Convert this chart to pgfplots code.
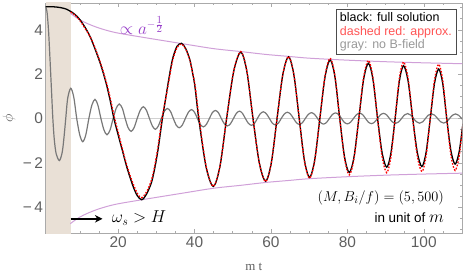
\documentclass[border=0pt]{standalone}
\usepackage{pgfplots}
\pgfplotsset{compat=1.18}
\usepackage{fontspec}
\setmainfont{Liberation Sans}
\newfontfamily\seriffont{Liberation Serif}
\usetikzlibrary{arrows.meta}
\definecolor{shade}{RGB}{233,224,214}
\definecolor{envc}{RGB}{208,160,216}
\definecolor{envtxt}{RGB}{150,60,200}
\definecolor{legred}{RGB}{255,85,85}
\definecolor{curvegray}{RGB}{120,120,120}
\definecolor{framec}{RGB}{170,170,170}
\definecolor{tickc}{RGB}{95,95,95}
\begin{document}
\begin{tikzpicture}
\begin{axis}[
  at={(0,0)}, anchor=south west,
  scale only axis, width=416.5bp, height=230bp,
  xmin=1, xmax=110, ymin=-5.17, ymax=5.21,
  axis line style={draw=framec, line width=0.6bp},
  xtick={20,40,60,80,100},
  minor xtick={5,10,15,25,30,35,45,50,55,65,70,75,85,90,95,105},
  ytick={-4,-2,0,2,4}, yticklabels={−\,4,−\,2,0,2,4},
  minor ytick={-5,-4.5,-3.5,-3,-2.5,-1.5,-1,-0.5,0.5,1,1.5,2.5,3,3.5,4.5,5},
  tick align=inside, major tick length=4bp, minor tick length=2.2bp,
  every tick/.style={framec, line width=0.5bp},
  ticklabel style={font=\fontsize{15.5}{15.5}\selectfont, text=tickc},
  /pgf/number format/assume math mode=true,
  xticklabel style={yshift=-0.5bp},
  yticklabel style={xshift=1bp},
  xlabel={\seriffont m t}, ylabel={$\phi$},
  xlabel style={at={(axis description cs:0.5,0)}, anchor=center, yshift=-34bp, font=\fontsize{13}{13}\selectfont, text=tickc},
  ylabel style={at={([xshift=-36.5bp]axis description cs:0,0.5)}, anchor=center, font=\fontsize{14}{14}\selectfont, text=tickc},
  extra y ticks={0}, extra y tick labels={},
  extra y tick style={grid=major, major grid style={black!18, line width=0.7bp}},
  clip=true,
]
% shaded region
\addplot[draw=none, fill=shade] coordinates {(1,-6) (7.6,-6) (7.6,6) (1,6)} -- cycle;

% gray: no B-field
\addplot[curvegray, line width=1.2bp, smooth] coordinates {
(1,5.04)(1.4,4.8)(1.8,3.95)(2.2,2.6)(2.6,1.15)(2.92,0)(3.3,-0.95)(3.8,-1.6)(4.65,-1.9)(5.4,-1.5)(5.9,-0.75)(6.3,0)(6.8,0.9)(7.6,1.36)(8.4,0.96)(9.17,0)(9.96,-0.74)(10.75,-1.05)(11.55,-0.74)(12.35,0)(13.15,0.61)(13.95,0.86)(14.7,0.61)(15.5,0)(16.3,-0.52)(17.1,-0.74)(17.9,-0.52)(18.7,0)(19.5,0.46)(20.3,0.65)(21.1,0.46)(21.85,0)(22.6,-0.41)(23.4,-0.585)(24.2,-0.41)(25.0,0)(25.8,0.37)(26.6,0.53)(27.4,0.37)(28.2,0)(29.0,-0.35)(29.75,-0.49)(30.5,-0.35)(31.3,0)
(32.1,0.32)(32.9,0.45)(33.7,0.32)(34.45,0)
(35.2,-0.3)(36.0,-0.42)(36.8,-0.3)(37.6,0)
(38.4,0.28)(39.2,0.40)(40.0,0.28)(40.75,0)
(41.5,-0.27)(42.3,-0.38)(43.1,-0.27)(43.9,0)
(44.65,0.26)(45.45,0.36)(46.25,0.26)(47.0,0)
(47.8,-0.24)(48.6,-0.34)(49.4,-0.24)(50.2,0)
(50.95,0.23)(51.75,0.33)(52.55,0.23)(53.3,0)
(54.1,-0.22)(54.9,-0.31)(55.7,-0.22)(56.45,0)
(57.2,0.21)(58.0,0.30)(58.8,0.21)(59.6,0)
(60.35,-0.21)(61.15,-0.29)(61.95,-0.21)(62.7,0)
(63.5,0.2)(64.3,0.28)(65.1,0.2)(65.9,0)
(66.65,-0.19)(67.45,-0.27)(68.25,-0.19)(69.0,0)
(69.8,0.185)(70.6,0.26)(71.4,0.185)(72.2,0)
(72.95,-0.18)(73.75,-0.255)(74.55,-0.18)(75.3,0)
(76.1,0.18)(76.9,0.25)(77.7,0.18)(78.45,0)
(79.2,-0.175)(80.0,-0.245)(80.8,-0.175)(81.6,0)
(82.4,0.17)(83.2,0.24)(84.0,0.17)(84.75,0)
(85.5,-0.167)(86.3,-0.235)(87.1,-0.167)(87.9,0)
(88.65,0.163)(89.45,0.23)(90.25,0.163)(91.0,0)
(91.8,-0.16)(92.6,-0.225)(93.4,-0.16)(94.2,0)
(94.95,0.156)(95.75,0.22)(96.55,0.156)(97.3,0)
(98.1,-0.153)(98.9,-0.215)(99.7,-0.153)(100.45,0)
(101.2,0.15)(102.0,0.21)(102.8,0.15)(103.6,0)
(104.4,-0.15)(105.2,-0.21)(106.0,-0.15)(106.75,0)
(107.5,0.146)(108.3,0.205)(109.1,0.146)(109.9,0)(110.7,-0.146)
};

% envelopes
\addplot[envc, line width=1bp, smooth] coordinates {
(7.5,4.75)(8.5,4.62)(10,4.45)(12,4.28)(15,4.08)(19.2,3.88)(26.2,3.67)(36.6,3.38)(45,3.15)(52,3.02)(58.6,2.89)(64.6,2.8)(70,2.72)(80,2.63)(90,2.56)(100,2.51)(110,2.47)
};
\addplot[envc, line width=1bp, smooth] coordinates {
(7.5,-4.75)(8.5,-4.62)(10,-4.45)(12,-4.28)(15,-4.08)(19.2,-3.88)(26.2,-3.67)(36.6,-3.38)(45,-3.15)(52,-3.02)(58.6,-2.89)(64.6,-2.8)(70,-2.72)(80,-2.63)(90,-2.56)(100,-2.51)(110,-2.47)
};

% black: full solution
\addplot[black, line width=1.3bp, smooth] coordinates {
(1,5.04)(3,5.04)(5,5.0)(6.5,4.93)(7.6,4.83)(8.8,4.68)(10,4.46)(11.4,4.1)(12.7,3.68)(14,3.12)(15.3,2.5)(16.2,2.0)(17,1.5)(18,0.75)(18.9,0)(20.1,-0.8)(21.2,-1.5)(22.2,-2.15)(23.1,-2.65)(24,-3.1)(25,-3.48)(26.2,-3.67)(27.5,-3.4)(28.8,-2.85)(29.7,-2.15)(30.5,-1.35)(31.6,0)
(32.4,0.85)(33.1,1.6)(33.8,2.3)(34.4,2.78)(35.4,3.25)(36.6,3.39)(37.7,3.15)(38.8,2.63)(39.5,2.05)(40.1,1.45)(41.1,0)
(43.0,-2.17)(44.9,-3.07)(46.65,-2.17)(48.4,0)
(50.25,2.12)(52.1,3.0)(53.7,2.12)(55.3,0)
(56.95,-2.0)(58.6,-2.83)(60.1,-2.0)(61.6,0)
(63.1,1.97)(64.6,2.78)(66.0,1.97)(67.4,0)
(68.75,-1.88)(70.1,-2.66)(71.45,-1.88)(72.8,0)
(74.15,1.87)(75.5,2.64)(76.75,1.87)(78.0,0)
(79.25,-1.73)(80.5,-2.44)(81.75,-1.73)(83.0,0)
(84.25,1.76)(85.5,2.49)(86.7,1.76)(87.9,0)
(89.1,-1.56)(90.3,-2.2)(91.4,-1.56)(92.5,0)
(93.6,1.68)(94.7,2.38)(95.9,1.68)(97.1,0)
(98.3,-1.53)(99.5,-2.17)(100.6,-1.53)(101.7,0)
(102.8,1.58)(103.9,2.23)(104.95,1.58)(106.0,0)
(107.1,-1.46)(108.2,-2.06)(109.3,-1.46)(110.4,0)
};

% dashed red: approx.
\addplot[red, line width=1.3bp, smooth, dash pattern=on 1.6bp off 1.6bp] coordinates {
(7.6,4.8)(8.8,4.66)(10,4.42)(11.4,4.05)(12.9,3.62)(14.2,3.08)(15.5,2.45)(16.4,1.95)(17.2,1.45)(18.2,0.72)(19.1,0)(20.3,-0.8)(21.3,-1.5)(22.3,-2.12)(23.2,-2.6)(24.1,-3.02)(25.1,-3.4)(26.1,-3.58)(27.4,-3.33)(28.7,-2.8)(29.6,-2.12)(30.4,-1.33)(31.5,0)
(32.4,0.85)(33.2,1.6)(33.9,2.3)(34.5,2.76)(35.5,3.22)(36.6,3.36)(37.7,3.13)(38.8,2.62)(39.5,2.05)(40.2,1.43)(41.2,0)
(43.05,-2.17)(44.9,-3.07)(46.65,-2.17)(48.4,0)
(50.25,2.14)(52.1,3.02)(53.7,2.14)(55.3,0)
(56.95,-2.01)(58.6,-2.85)(60.1,-2.01)(61.6,0)
(63.1,1.98)(64.6,2.8)(66.0,1.98)(67.4,0)
(68.75,-1.91)(70.1,-2.7)(71.45,-1.91)(72.8,0)
(74.15,1.92)(75.5,2.72)(76.75,1.92)(78.0,0)
(79.25,-1.8)(80.5,-2.55)(81.75,-1.8)(83.0,0)
(84.25,1.85)(85.5,2.62)(86.7,1.85)(87.9,0)
(89.1,-1.73)(90.3,-2.45)(91.4,-1.73)(92.5,0)
(93.6,1.8)(94.7,2.55)(95.9,1.8)(97.1,0)
(98.3,-1.7)(99.5,-2.4)(100.6,-1.7)(101.7,0)
(102.8,1.73)(103.9,2.45)(104.95,1.73)(106.0,0)
(107.1,-1.66)(108.2,-2.35)(109.3,-1.66)(110.4,0)
};

% annotations
\node[anchor=west, text=envtxt, font=\fontsize{16}{16}\selectfont, inner sep=0pt] at (axis cs:20.4,4.2) {$\propto a^{-\frac{\scriptstyle 1}{\scriptstyle 2}}$};
\draw[-{Stealth[length=7.5bp,width=7.5bp]}, line width=1.6bp] (axis cs:7.6,-4.53) -- (axis cs:15.9,-4.53);
\node[anchor=west, font=\fontsize{16.5}{16.5}\selectfont, inner sep=0pt] at (axis cs:18.3,-4.5) {$\omega_s > H$};
\node[anchor=east, font=\fontsize{15.5}{15.5}\selectfont, inner sep=0pt] at (axis cs:105.3,-3.58) {$(M, B_i/f) = (5, 500)$};
\node[anchor=east, font=\fontsize{13.5}{13.5}\selectfont, inner sep=0pt] at (axis cs:105.3,-4.48) {in unit of \fontsize{17}{17}\selectfont$m$};
\node[draw=black!70, line width=0.7bp, fill=white, align=left, anchor=north east, inner xsep=4bp, inner ysep=3bp, font=\fontsize{12.5}{13.5}\selectfont] at (axis cs:108.5,4.93) {black: full solution\\\textcolor{legred}{dashed red: approx.}\\\textcolor{black!40}{gray: no B-field}};
\end{axis}
\pgfresetboundingbox
\path[use as bounding box] (-45.5bp,-40bp) rectangle (418.5bp,233bp);
\end{tikzpicture}
\end{document}
